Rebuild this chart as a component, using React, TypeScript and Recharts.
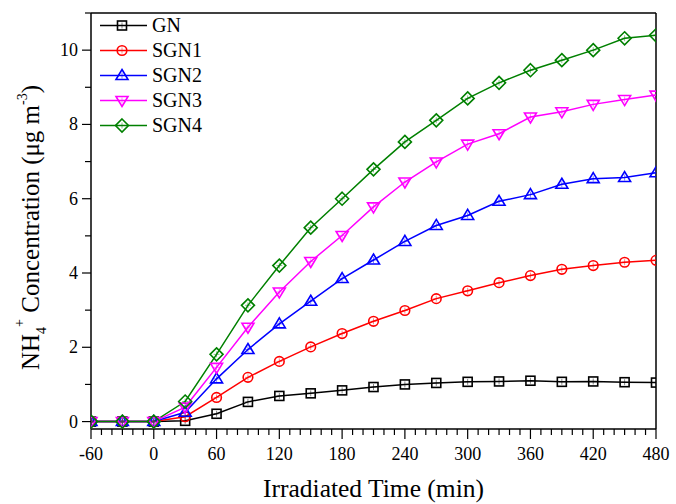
import React from 'react';
import { LineChart, Line, XAxis, YAxis, ReferenceLine, Legend, Label } from 'recharts';

const FONT = '"Liberation Serif", "Times New Roman", Times, serif';

// irradiation time (min)
const times = [-60, -30, 0, 30, 60, 90, 120, 150, 180, 210, 240, 270, 300, 330, 360, 390, 420, 450, 480];

// NH4+ concentration (ug m-3)
const gn = [0, 0, 0, 0.02, 0.21, 0.53, 0.69, 0.76, 0.84, 0.93, 1.0, 1.04, 1.07, 1.08, 1.1, 1.07, 1.08, 1.06, 1.05];
const sgn1 = [0, 0, 0, 0.13, 0.65, 1.19, 1.62, 2.01, 2.37, 2.7, 2.99, 3.31, 3.52, 3.74, 3.93, 4.1, 4.2, 4.29, 4.34];
const sgn2 = [0, 0, 0, 0.25, 1.15, 1.94, 2.63, 3.24, 3.85, 4.35, 4.85, 5.28, 5.55, 5.93, 6.11, 6.39, 6.54, 6.57, 6.7];
const sgn3 = [0, 0, 0, 0.39, 1.46, 2.54, 3.49, 4.31, 5.01, 5.78, 6.45, 6.99, 7.47, 7.75, 8.2, 8.34, 8.54, 8.67, 8.79];
const sgn4 = [0, 0, 0, 0.54, 1.81, 3.13, 4.2, 5.22, 6.0, 6.79, 7.53, 8.11, 8.7, 9.12, 9.46, 9.73, 10.0, 10.32, 10.4];

const seriesNames = ['GN', 'SGN1', 'SGN2', 'SGN3', 'SGN4'];
const seriesValues = [gn, sgn1, sgn2, sgn3, sgn4];
const seriesColors = ['#000000', '#ff0000', '#0000ff', '#ff00ff', '#008000'];
const seriesShapes = ['square', 'circle', 'up', 'down', 'diamond'];

const xTicks = [-60, -50, -40, -30, -20, -10, 0, 10, 20, 30, 40, 50, 60, 70, 80, 90, 100, 110, 120, 130, 140, 150, 160, 170, 180, 190, 200, 210, 220, 230, 240, 250, 260, 270, 280, 290, 300, 310, 320, 330, 340, 350, 360, 370, 380, 390, 400, 410, 420, 430, 440, 450, 460, 470, 480];
const yTicks = [0, 1, 2, 3, 4, 5, 6, 7, 8, 9, 10, 11];

const data = times.map((t, i) => {
  const row: Record<string, number> = { t };
  seriesNames.forEach((n, k) => { row[n] = seriesValues[k][i]; });
  return row;
});

// chart box (plot area = width minus margins/axis)
const W = 676, H = 504;
const M = { top: 13, right: 20, bottom: 0, left: 0 };
const Y_AXIS_W = 91, X_AXIS_H = 75;

function Marker({ shape, cx, cy, color, clip }: { shape: string; cx: number; cy: number; color: string; clip?: string }) {
  let body;
  if (shape === 'square') body = <rect x={cx - 4.5} y={cy - 4.5} width={9} height={9} />;
  else if (shape === 'circle') body = <circle cx={cx} cy={cy} r={4.8} />;
  else if (shape === 'up') body = <polygon points={`${cx},${cy - 6} ${cx + 6},${cy + 4} ${cx - 6},${cy + 4}`} />;
  else if (shape === 'down') body = <polygon points={`${cx},${cy + 6} ${cx + 6},${cy - 4} ${cx - 6},${cy - 4}`} />;
  else body = <polygon points={`${cx},${cy - 6.5} ${cx + 6.5},${cy} ${cx},${cy + 6.5} ${cx - 6.5},${cy}`} />;
  return (
    <g fill="none" stroke={color} strokeWidth={1.6} clipPath={clip}>
      {body}
      <path d={`M${cx - 3},${cy}H${cx + 3}M${cx},${cy - 3}V${cy + 3}`} strokeWidth={0.8} opacity={0.6} />
    </g>
  );
}

const XTick = (props: any) => {
  const { x, y, payload } = props;
  const v = payload.value;
  const major = v % 60 === 0;
  return (
    <g>
      <line x1={x} x2={x} y1={y} y2={y + (major ? 10 : 6)} stroke="#000" strokeWidth={1.2} />
      {major && (
        <text x={x} y={y + 31} textAnchor="middle" fontSize={18} fontFamily={FONT} fill="#000">{v}</text>
      )}
    </g>
  );
};

const YTick = (props: any) => {
  const { x, y, payload } = props;
  const v = payload.value;
  const major = v % 2 === 0 && v <= 10;
  return (
    <g>
      <line x1={x} x2={x - (major ? 9 : 6)} y1={y} y2={y} stroke="#000" strokeWidth={1.2} />
      {major && (
        <text x={x - 13} y={y + 6} textAnchor="end" fontSize={18} fontFamily={FONT} fill="#000">{v}</text>
      )}
    </g>
  );
};

const XTitle = () => (
  <text x={373.5} y={497} textAnchor="middle" fontSize={25.5} fontFamily={FONT} fill="#000">
    Irradiated Time (min)
  </text>
);

const YTitle = () => (
  <text transform="translate(38.5,370) rotate(-90)" fontSize={25} fontFamily={FONT} fill="#000">
    <tspan>NH</tspan>
    <tspan fontSize={14} dy={7}>4</tspan>
    <tspan fontSize={14} dy={-22}>+</tspan>
    <tspan dy={15}>{' Concentration (μg m'}</tspan>
    <tspan fontSize={14} dy={-12}>-3</tspan>
    <tspan dy={12}>)</tspan>
  </text>
);

const LegendBox = () => (
  <div style={{ fontFamily: FONT, fontSize: 20, color: '#000' }}>
    {seriesNames.map((n, i) => (
      <div key={n} style={{ display: 'flex', alignItems: 'center', height: 25.2 }}>
        <svg width={50} height={25}>
          <line x1={2} x2={49} y1={12.5} y2={12.5} stroke={seriesColors[i]} strokeWidth={1.5} />
          <Marker shape={seriesShapes[i]} cx={24} cy={12.5} color={seriesColors[i]} />
        </svg>
        <span style={{ marginLeft: 4, lineHeight: '25px' }}>{n}</span>
      </div>
    ))}
  </div>
);

export default function App() {
  const plotX = M.left + Y_AXIS_W;
  const plotY = M.top;
  const plotW = W - M.right - plotX;
  const plotH = H - M.bottom - X_AXIS_H - plotY;
  return (
    <div style={{ position: 'absolute', left: 0, top: 0, width: W, height: H, background: '#fff' }}>
      <svg width={0} height={0} style={{ position: 'absolute' }}>
        <defs>
          <clipPath id="plot-clip" clipPathUnits="userSpaceOnUse">
            <rect x={plotX} y={plotY} width={plotW} height={plotH} />
          </clipPath>
        </defs>
      </svg>
      <LineChart width={W} height={H} data={data} margin={M}>
        <XAxis
          dataKey="t"
          type="number"
          domain={[-60, 480]}
          allowDataOverflow
          ticks={xTicks}
          interval={0}
          tickSize={0}
          tickMargin={0}
          tickLine={false}
          tick={<XTick />}
          axisLine={{ stroke: '#000', strokeWidth: 1.5 }}
          height={X_AXIS_H}
        >
          <Label content={<XTitle />} />
        </XAxis>
        <YAxis
          type="number"
          domain={[-0.2, 11]}
          allowDataOverflow
          ticks={yTicks}
          interval={0}
          tickSize={0}
          tickMargin={0}
          tickLine={false}
          tick={<YTick />}
          axisLine={{ stroke: '#000', strokeWidth: 1.5 }}
          width={Y_AXIS_W}
        >
          <Label content={<YTitle />} />
        </YAxis>
        <ReferenceLine y={11} stroke="#000" strokeWidth={1.5} />
        <ReferenceLine x={480} stroke="#000" strokeWidth={1.5} />
        {seriesNames.map((n, i) => (
          <Line
            key={n}
            type="linear"
            dataKey={n}
            stroke={seriesColors[i]}
            strokeWidth={1.5}
            isAnimationActive={false}
            activeDot={false}
            legendType="none"
            dot={(p: any) => (
              <Marker
                key={`${n}-${p.index}`}
                shape={seriesShapes[i]}
                cx={p.cx}
                cy={p.cy}
                color={seriesColors[i]}
                clip="url(#plot-clip)"
              />
            )}
          />
        ))}
        <Legend
          layout="vertical"
          align="center"
          verticalAlign="middle"
          wrapperStyle={{ left: 98, top: 12.5, width: 130 }}
          content={<LegendBox />}
        />
      </LineChart>
    </div>
  );
}
